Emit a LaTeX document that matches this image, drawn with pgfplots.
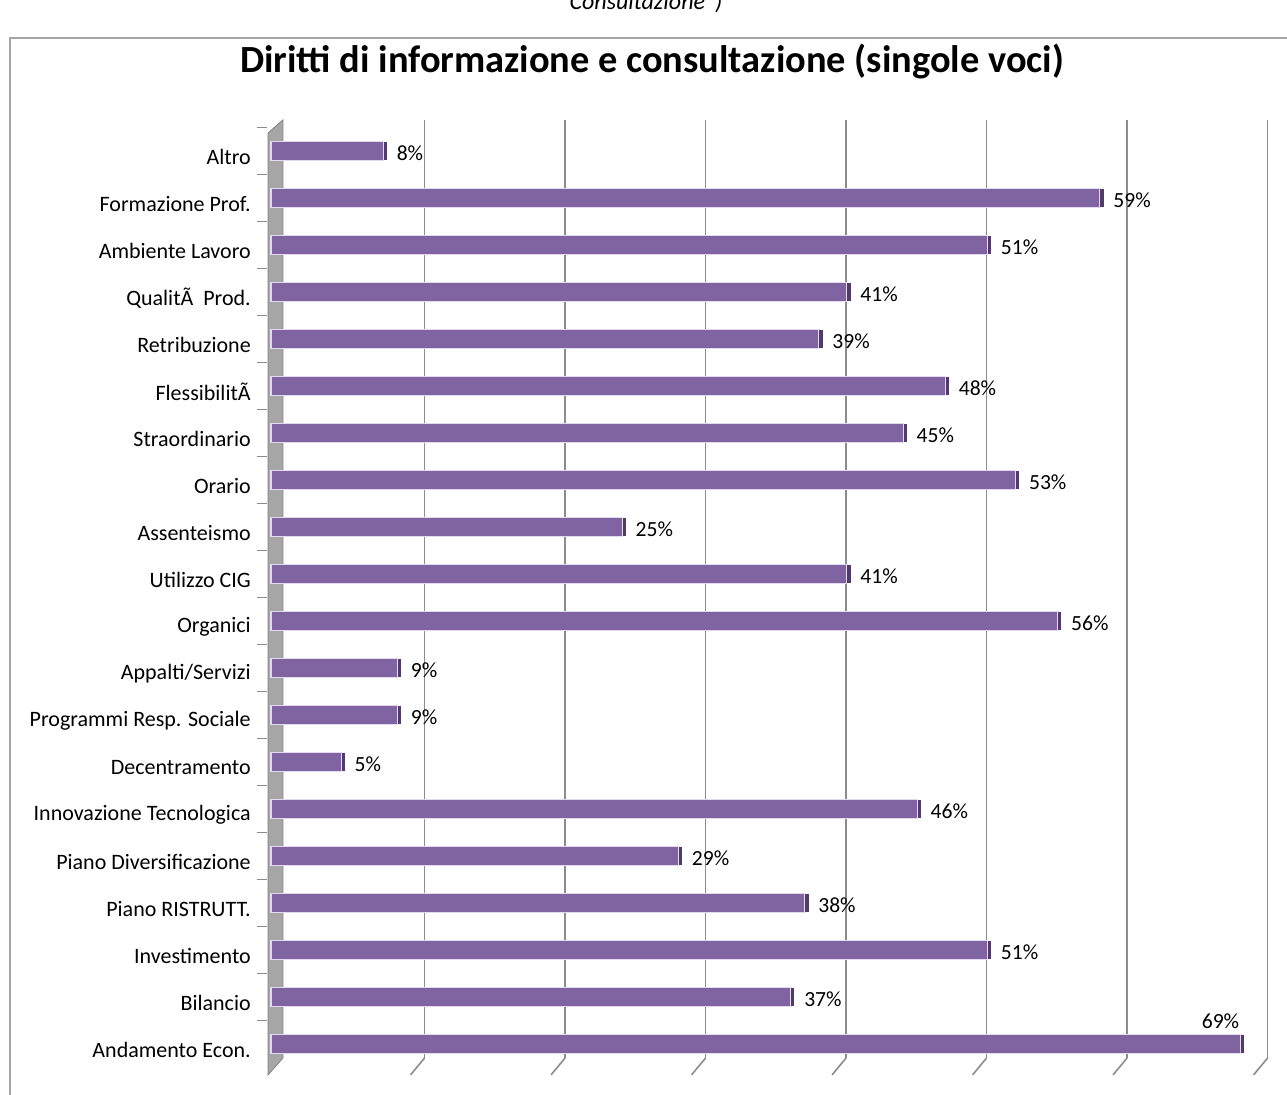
\documentclass[border=0pt]{standalone}
\usepackage{pgfplots}
\pgfplotsset{compat=1.18}
\usepackage{fontspec}
\setmainfont{Carlito}
\definecolor{barpurple}{HTML}{8064A2}
\definecolor{barlight}{HTML}{E4DAF0}
\definecolor{bardark}{HTML}{4F3D66}
\definecolor{walgray}{HTML}{A6A6A6}
\definecolor{gridgray}{HTML}{8C8C8C}
\begin{document}
\begin{tikzpicture}
\useasboundingbox (0,0) rectangle (643.5pt,547.5pt);
% frame
\draw[color=walgray, line width=0.8pt] (5pt,-5pt) -- (5pt,528.5pt) -- (660pt,528.5pt);
% cut text at top
\node[font=\itshape\fontsize{12}{14}\selectfont, anchor=base] at (323pt,542.5pt) {Consultazione")};
% title
\node[font=\bfseries\fontsize{19.2}{23}\selectfont, anchor=center] at (326pt,516.5pt) {Diritti di informazione e consultazione (singole voci)};
\begin{axis}[
  at={(133.4pt,18.5pt)}, anchor=south west,
  scale only axis,
  width=500.9pt, height=469.06pt,
  xmin=-0.3, xmax=71,
  ymin=-0.30, ymax=19.66,
  clip=false,
  axis line style={draw=none},
  xtick=\empty,
  ytick={0,...,19},
  ytick pos=left,
  yticklabels={Andamento Econ.,Bilancio,Investimento,Piano RISTRUTT.,Piano Diversificazione,Innovazione Tecnologica,Decentramento,Programmi Resp. Sociale,Appalti/Servizi,Organici,Utilizzo CIG,Assenteismo,Orario,Straordinario,FlessibilitÃ\ ,Retribuzione,QualitÃ\ \ Prod.,Ambiente Lavoro,Formazione Prof.,Altro},
  yticklabel style={font=\fontsize{11}{13}\selectfont, xshift=-4.5pt, yshift=-3pt},
  major tick length=0pt,
  extra y ticks={-0.5,0.5,1.5,2.5,3.5,4.5,5.5,6.5,7.5,8.5,9.5,10.5,11.5,12.5,13.5,14.5,15.5,16.5,17.5,18.5,19.5},
  extra y tick labels={},
  extra y tick style={major tick length=5pt, tick style={color=gridgray, line width=0.6pt}, tick align=outside, ytick pos=left},
  extra x ticks={10.93,20.93,30.93,40.93,50.93,60.93,70.93},
  extra x tick labels={},
  extra x tick style={grid=major, major grid style={color=gridgray, line width=0.8pt}, major tick length=0pt},
  bar width=9.5pt, bar shift=0pt,
  point meta=x,
]
% back wall
\fill[color=walgray, draw=gray] (axis cs:-0.21,19.38) -- (axis cs:0.85,19.66) -- (axis cs:0.85,-0.30) -- (axis cs:-0.21,-0.66) -- cycle;
% floor ticks
\draw[color=gridgray, line width=0.8pt] (axis cs:10.93,-0.30) -- (axis cs:9.93,-0.66);
\draw[color=gridgray, line width=0.8pt] (axis cs:20.93,-0.30) -- (axis cs:19.93,-0.66);
\draw[color=gridgray, line width=0.8pt] (axis cs:30.93,-0.30) -- (axis cs:29.93,-0.66);
\draw[color=gridgray, line width=0.8pt] (axis cs:40.93,-0.30) -- (axis cs:39.93,-0.66);
\draw[color=gridgray, line width=0.8pt] (axis cs:50.93,-0.30) -- (axis cs:49.93,-0.66);
\draw[color=gridgray, line width=0.8pt] (axis cs:60.93,-0.30) -- (axis cs:59.93,-0.66);
\draw[color=gridgray, line width=0.8pt] (axis cs:70.93,-0.30) -- (axis cs:69.93,-0.66);
\addplot[xbar, fill=barpurple, draw=barlight, line width=0.7pt,
  nodes near coords={\pgfmathprintnumber[fixed,precision=0,assume math mode=true]{\pgfplotspointmeta}\%},
  nodes near coords style={font=\fontsize{10.8}{12}\selectfont, anchor=west, xshift=3pt, yshift=-1pt}] coordinates {
(37,1) (51,2) (38,3) (29,4) (46,5) (5,6) (9,7) (9,8) (56,9)
(41,10) (25,11) (53,12) (45,13) (48,14) (39,15) (41,16) (51,17) (59,18) (8,19)
};
\addplot[xbar, fill=barpurple, draw=barlight, line width=0.7pt,
  nodes near coords={\pgfmathprintnumber[fixed,precision=0,assume math mode=true]{\pgfplotspointmeta}\%},
  nodes near coords style={font=\fontsize{10.8}{12}\selectfont, anchor=south east, xshift=3pt, yshift=4pt}] coordinates {
(69,0)
};
% bar end caps
\addplot[only marks, mark=|, mark size=4.6pt, color=bardark, line width=1.6pt,
  mark options={xshift=1pt}] coordinates {
(69,0) (37,1) (51,2) (38,3) (29,4) (46,5) (5,6) (9,7) (9,8) (56,9)
(41,10) (25,11) (53,12) (45,13) (48,14) (39,15) (41,16) (51,17) (59,18) (8,19)
};
\end{axis}
\end{tikzpicture}
\end{document}
